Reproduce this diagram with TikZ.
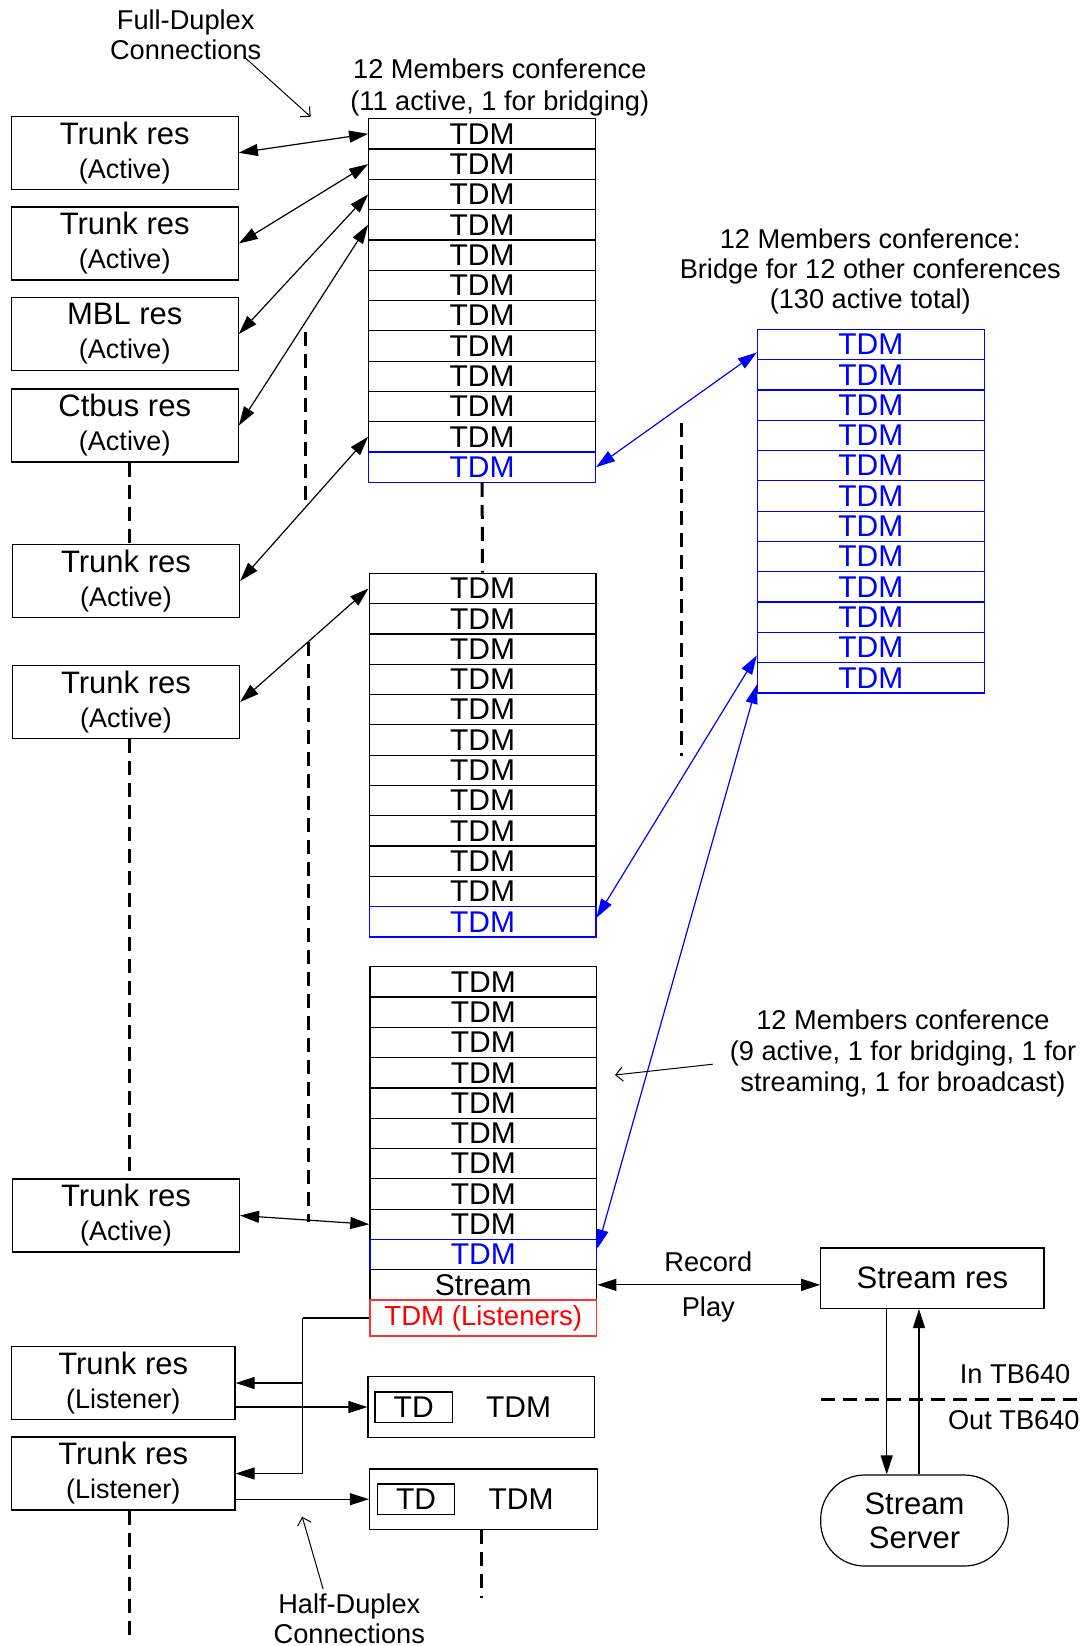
\documentclass[tikz,border=0pt]{standalone}
\usepackage{fontspec}
\setmainfont{Liberation Sans}
\usepackage{tikz}
\usetikzlibrary{positioning,arrows.meta,shapes}
\newcommand{\smalltxt}{\fontsize{13.5}{17}\selectfont}
\tikzset{
  >={Triangle[length=9.5pt,width=6pt]},
  res/.style={draw, line width=0.6pt, minimum width=113.5pt, minimum height=36.5pt,
    inner sep=0pt, align=center, font=\fontsize{15.5}{17}\selectfont},
  slot/.style={draw, line width=0.6pt, minimum width=113.4pt, minimum height=15.15pt,
    inner sep=0pt, font=\fontsize{15}{15}\selectfont},
  bslot/.style={slot, draw=blue, text=blue},
  txt/.style={inner sep=0pt, align=center, font=\fontsize{13.6}{15.3}\selectfont},
  link/.style={line width=0.6pt, <->},
  guide/.style={line width=1.5pt, dash pattern=on 7pt off 4pt},
  note/.style={line width=0.5pt, -{Straight Barb[length=3.5pt,width=7pt]}}
}

\begin{document}
\begin{tikzpicture}[x=0.5pt,y=-0.5pt]
\useasboundingbox (0,0) rectangle (1084,1646);

% resources on the left
\node[res] (t1) at (124.75,152.75) {Trunk res\\\smalltxt(Active)};
\node[res] (t2) at (124.75,243.5) {Trunk res\\\smalltxt(Active)};
\node[res] (mbl) at (124.75,334) {MBL res\\\smalltxt(Active)};
\node[res] (ctbus) at (124.75,425.5) {Ctbus res\\\smalltxt(Active)};
\node[res] (t5) at (126,581) {Trunk res\\\smalltxt(Active)};
\node[res] (t6) at (126,702) {Trunk res\\\smalltxt(Active)};
\node[res] (t7) at (126,1215.5) {Trunk res\\\smalltxt(Active)};
\node[res, minimum width=111.75pt] (l1) at (123.25,1383) {Trunk res\\\smalltxt(Listener)};
\node[res, minimum width=111.75pt] (l2) at (123.25,1473.5) {Trunk res\\\smalltxt(Listener)};

% first conference
\node[txt, font=\fontsize{13.6}{15.8}\selectfont] (conf1) at (499.8,87.5)
  {12 Members conference\\(11 active, 1 for bridging)};
\foreach \i in {1,...,11}
  \node[slot] (c1r\i) at (482.1,{118.7+(\i-0.5)*30.3}) {TDM};
\node[bslot] (c1r12) at (482.1,{118.7+11.5*30.3}) {TDM};

% second conference
\foreach \i in {1,...,11}
  \node[slot] (c2r\i) at (482.5,{573.3+(\i-0.5)*30.3}) {TDM};
\node[bslot] (c2r12) at (482.5,{573.3+11.5*30.3}) {TDM};

% third conference with stream and listeners
\foreach \i in {1,...,9}
  \node[slot] (c3r\i) at (483.3,{966.7+(\i-0.5)*30.3}) {TDM};
\node[bslot] (c3r10) at (483.3,{966.7+9.5*30.3}) {TDM};
\node[slot] (c3r11) at (483.3,{966.7+10.5*30.3}) {Stream};
\node[slot, draw=red!80, text=red, minimum height=18pt,
  font=\fontsize{13.8}{14}\selectfont] (c3r12) at (483.3,1318) {TDM (Listeners)};

% bridge conference
\node[txt, font=\fontsize{13.6}{15}\selectfont] (bridgetxt) at (870.3,271.7)
  {12 Members conference:\\Bridge for 12 other conferences\\(130 active total)};
\foreach \i in {1,...,12}
  \node[bslot] (b\i) at (870.8,{329.3+(\i-0.5)*30.3}) {TDM};

% half duplex timeslots
\node[slot, minimum width=113.35pt, minimum height=30.3pt] (td1) at (481.4,1407) {};
\node[slot, minimum width=38.7pt] (td1a) at (413.7,1407.2) {TD};
\node[font=\fontsize{15}{15}\selectfont, inner sep=0pt] (td1b) at (518.5,1407) {TDM};
\node[slot, minimum width=113.85pt, minimum height=30.15pt] (td2) at (483.4,1499.2) {};
\node[slot, minimum width=38.5pt] (td2a) at (416,1499.2) {TD};
\node[font=\fontsize{15}{15}\selectfont, inner sep=0pt] (td2b) at (521,1499.2) {TDM};

% streaming
\node[slot, minimum width=111.6pt, minimum height=30.25pt,
  font=\fontsize{15.5}{16}\selectfont] (sres) at (932.4,1278.2) {Stream res};
\node[draw, line width=0.6pt, rounded corners=22pt, minimum width=93.8pt,
  minimum height=45.5pt, inner sep=0pt, align=center,
  font=\fontsize{15.5}{17}\selectfont] (sserv) at (914.5,1520.5) {Stream\\Server};

% labels
\node[txt] (conf3txt) at (903,1053.5)
  {12 Members conference\\(9 active, 1 for bridging, 1 for\\streaming, 1 for broadcast)};
\node[txt, font=\fontsize{13.6}{15}\selectfont] (fdx) at (185.7,35) {Full-Duplex\\Connections};
\node[txt, font=\fontsize{13.6}{15}\selectfont] (hdx) at (349.3,1618.3) {Half-Duplex\\Connections};
\node[txt] (rec) at (708.3,1261.3) {Record};
\node[txt] (play) at (708.3,1309) {Play};
\node[txt, anchor=east] (intb) at (1070.7,1374) {In TB640};
\node[txt, anchor=east] (outtb) at (1080,1420) {Out TB640};

% full duplex links
\draw[link] (t1.east) -- (c1r1.west);
\draw[link] (t2.east) -- (c1r2.west);
\draw[link] (mbl.east) -- (c1r3.west);
\draw[link] (ctbus.east) -- (c1r4.west);
\draw[link] (t5.east) -- (c1r11.west);
\draw[link] (t6.east) -- (c2r1.west);
\draw[link] (t7.east) -- (c3r9.west);

% bridging links
\draw[link, blue] (c1r12.east) -- ([yshift=-4pt]b1.west);
\draw[link, blue] ([yshift=2pt]c2r12.east) -- ([yshift=-4pt]b11.west);
\draw[link, blue] ([yshift=3pt]c3r10.east) -- ([yshift=-3.5pt]b12.west);

% record / play
\draw[link] (c3r11.east) -- (c3r11.east -| sres.west);
\draw[line width=0.6pt, ->] ([xshift=-22.85pt]sres.south) -- ([xshift=-22.85pt]sres.south |- sserv.north);
\draw[line width=0.6pt, ->] ([xshift=-6.7pt]sres.south |- sserv.north) -- ([xshift=-6.7pt]sres.south);

% listeners
\draw[line width=0.6pt] (c3r12.west) -- ++(-66.5,0) coordinate (bus);
\draw[line width=0.6pt, ->] (bus) |- (l2.east);
\draw[line width=0.6pt, ->] (bus |- l1.east) -- (l1.east);
\draw[line width=0.6pt, ->] (td1.west -| l1.east) -- (td1.west);
\draw[line width=0.6pt, ->] (td2.west -| l2.east) -- (td2.west);

% continuation marks
\draw[guide] ([xshift=2.25pt]ctbus.south) -- ([xshift=2.25pt]ctbus.south |- t5.north);
\draw[guide] ([xshift=1.6pt]t6.south) -- ([xshift=1.6pt]t6.south |- t7.north);
\draw[guide] ([xshift=2.9pt]l2.south) -- ++(0,124);
\draw[guide] (c1r12.south) -- (c2r1.north);
\draw[guide] ([xshift=-1pt]td2.south) -- ++(0,68);
\draw[guide] (305,332) -- (305,508);
\draw[guide] (308,642) -- (308,1222);
\draw[guide] (681.7,423.3) -- (681.7,755.6);
\draw[guide] (820.7,1399.8) -- (1084,1399.8);

% pointers
\draw[note] (244,56.7) -- (310.6,116.7);
\draw[note] (712.7,1064.2) -- (615,1075);
\draw[note] (323.2,1589.3) -- (302.2,1516.7);
\end{tikzpicture}
\end{document}
